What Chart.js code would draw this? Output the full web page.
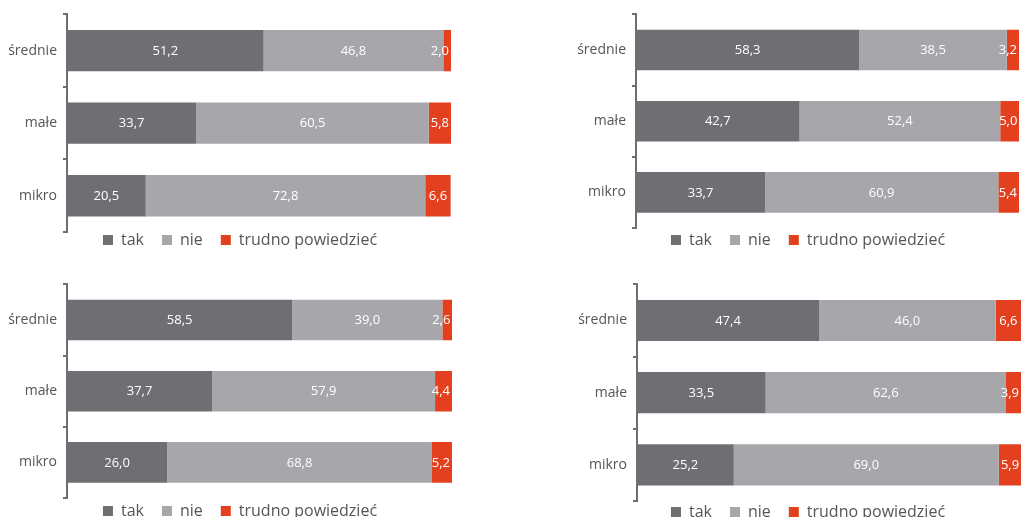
<!DOCTYPE html>
<html lang="pl">
<head>
<meta charset="utf-8">
<title>Odpowiedzi według wielkości firmy</title>
<script src="https://cdn.jsdelivr.net/npm/chart.js@4.4.1/dist/chart.umd.min.js"></script>
<style>
  html, body { margin: 0; padding: 0; background: #fff; overflow: hidden; }
  #board { position: relative; width: 1021px; height: 517px; overflow: hidden; }
  #board canvas { position: absolute; }
</style>
</head>
<body>
<div id="board">
  <canvas id="chartTL" width="480" height="276" style="left:0;top:0"></canvas>
  <canvas id="chartTR" width="461" height="272" style="left:560px;top:0"></canvas>
  <canvas id="chartBL" width="480" height="272" style="left:0;top:270px"></canvas>
  <canvas id="chartBR" width="461" height="275" style="left:560px;top:270px"></canvas>
</div>
<script>
// categories and series
const categories = ["średnie", "małe", "mikro"];
const seriesNames = ["tak", "nie", "trudno powiedzieć"];
const seriesColors = ["#6f6e73", "#a7a6aa", "#e2401f"];
const axisMin = 0;
const axisMax = 100;

// values (%) per panel
const tlTak = [51.2, 33.7, 20.5];
const tlNie = [46.8, 60.5, 72.8];
const tlTrudno = [2.0, 5.8, 6.6];

const trTak = [58.3, 42.7, 33.7];
const trNie = [38.5, 52.4, 60.9];
const trTrudno = [3.2, 5.0, 5.4];

const blTak = [58.5, 37.7, 26.0];
const blNie = [39.0, 57.9, 68.8];
const blTrudno = [2.6, 4.4, 5.2];

const brTak = [47.4, 33.5, 25.2];
const brNie = [46.0, 62.6, 69.0];
const brTrudno = [6.6, 3.9, 5.9];

const FONT = '"Open Sans", "Noto Sans", sans-serif';
const AXIS_COLOR = "#6f6e73";
const TEXT_COLOR = "#555";

/* value labels inside the bars, comma as decimal sign */
const barValueLabels = {
  id: "barValueLabels",
  afterDatasetsDraw(chart) {
    const ctx = chart.ctx;
    ctx.save();
    ctx.font = "13px " + FONT;
    ctx.fillStyle = "#fff";
    ctx.textAlign = "center";
    ctx.textBaseline = "middle";
    chart.data.datasets.forEach((ds, i) => {
      chart.getDatasetMeta(i).data.forEach((bar, j) => {
        const txt = ds.data[j].toFixed(1).replace(".", ",");
        const w = ctx.measureText(txt).width;
        const mid = (bar.x + bar.base) / 2;
        // narrow segments: keep the text inside the bar end
        const cx = Math.min(mid, bar.x - 2 - w / 2);
        ctx.fillText(txt, cx, bar.y + 0.5);
      });
    });
    ctx.restore();
  }
};

// move the legend box: dx to the right, dy up towards the axis
function legendNudge(dx, dy) {
  return {
    id: "legendNudge",
    afterLayout(chart) {
      const lg = chart.legend;
      if (!lg) return;
      lg.left += dx;
      lg.right += dx;
      lg.top -= dy;
      lg.bottom -= dy;
    }
  };
}

function makePanel(id, tak, nie, trudno, cfg) {
  const values = [tak, nie, trudno];
  new Chart(document.getElementById(id), {
    type: "bar",
    data: {
      labels: categories,
      datasets: seriesNames.map((name, i) => ({
        label: name,
        data: values[i],
        backgroundColor: seriesColors[i],
        borderWidth: 0,
        barPercentage: 0.57,
        categoryPercentage: 1
      }))
    },
    options: {
      indexAxis: "y",
      responsive: false,
      animation: false,
      events: [],
      layout: { padding: cfg.padding },
      scales: {
        x: { stacked: true, min: axisMin, max: axisMax, display: false },
        y: {
          stacked: true,
          afterFit(scale) { scale.width = cfg.axisWidth; },
          grid: {
            display: true,
            drawOnChartArea: false,
            drawTicks: true,
            tickLength: 4,
            lineWidth: 2,
            color: AXIS_COLOR
          },
          border: { display: true, width: 2, color: AXIS_COLOR, z: 1 },
          ticks: { padding: 6, color: TEXT_COLOR, font: { size: 14, family: FONT } }
        }
      },
      plugins: {
        legend: {
          position: "bottom",
          labels: {
            boxWidth: 10,
            boxHeight: 10,
            padding: 18,
            color: TEXT_COLOR,
            font: { size: 16, family: FONT }
          }
        },
        tooltip: { enabled: false }
      }
    },
    plugins: [barValueLabels, legendNudge(cfg.legendDx, cfg.legendDy)]
  });
}

makePanel("chartTL", tlTak, tlNie, tlTrudno, {
  padding: { top: 12, left: 0, right: 29, bottom: 0 }, axisWidth: 67, legendDx: 14.5, legendDy: 18
});
makePanel("chartTR", trTak, trNie, trTrudno, {
  padding: { top: 12, left: 0, right: 2, bottom: 0 }, axisWidth: 76, legendDx: 18.5, legendDy: 14
});
makePanel("chartBL", blTak, blNie, blTrudno, {
  padding: { top: 12, left: 0, right: 28, bottom: 0 }, axisWidth: 67, legendDx: 14, legendDy: 13
});
makePanel("chartBR", brTak, brNie, brTrudno, {
  padding: { top: 13, left: 0, right: 0, bottom: 0 }, axisWidth: 77, legendDx: 17.5, legendDy: 15
});
</script>
</body>
</html>
